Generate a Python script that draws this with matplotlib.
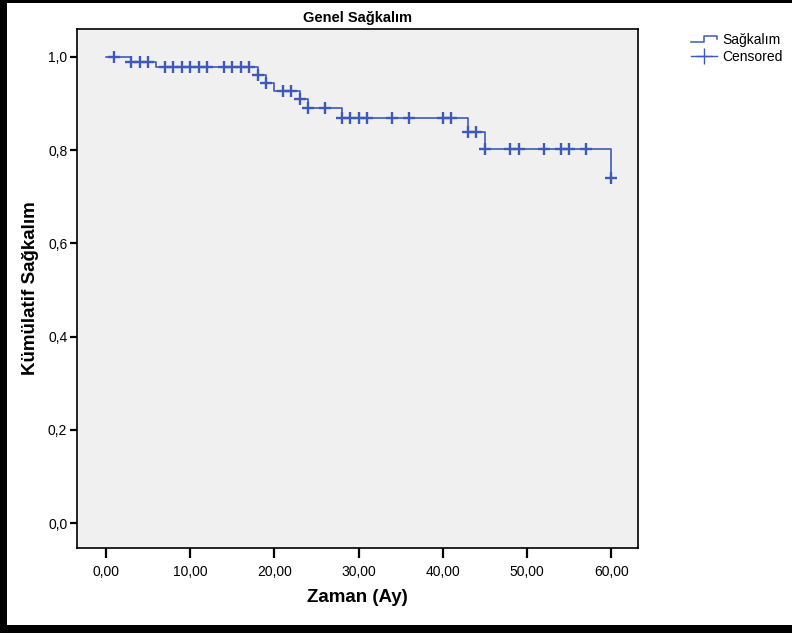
import numpy as np
import matplotlib
matplotlib.use("Agg")
import matplotlib.pyplot as plt
from matplotlib.lines import Line2D
from matplotlib.patches import Rectangle
from matplotlib.legend_handler import HandlerBase

plt.rcParams['font.family'] = ['Liberation Sans', 'DejaVu Sans']

# Kaplan-Meier egrisi (okunan degerler)
event_times = [0, 3, 6, 18, 19, 20, 23, 24, 28, 43, 45, 60]
survival = [1.000, 0.990, 0.979, 0.961, 0.945, 0.928, 0.909, 0.890, 0.870, 0.840, 0.802, 0.740]

# sansurlu gozlemler (ay)
censor_times = [1, 3, 4, 5, 7, 8, 9, 10, 11, 12, 14, 15, 16, 17, 18, 19, 21, 22,
                23, 24, 26, 28, 29, 30, 31, 34, 36, 40, 41, 43, 44, 45, 48, 49,
                52, 54, 55, 57, 60]

x_ticks = [0, 10, 20, 30, 40, 50, 60]
x_tick_labels = ["0,00", "10,00", "20,00", "30,00", "40,00", "50,00", "60,00"]
y_ticks = [0.0, 0.2, 0.4, 0.6, 0.8, 1.0]
y_tick_labels = ["0,0", "0,2", "0,4", "0,6", "0,8", "1,0"]

blue = '#3d5ab8'


class StepHandler(HandlerBase):
    # legend simgesi: basamak seklinde cizgi
    def create_artists(self, legend, orig_handle, xdescent, ydescent,
                       width, height, fontsize, trans):
        w, h = width, height
        xs = np.array([0, 0.5 * w, 0.5 * w, w, w]) - xdescent
        ys = np.array([0.2 * h, 0.2 * h, 0.85 * h, 0.85 * h, 0.5 * h]) - ydescent
        ln = Line2D(xs, ys, color=blue, lw=1.1, transform=trans)
        return [ln]


fig = plt.figure(figsize=(7.92, 6.33), dpi=100)
ax = fig.add_axes([77 / 792, 1 - 548 / 633, 561 / 792, 519 / 633])
ax.set_facecolor('#f0f0f0')

ax.step(event_times, survival, where='post', color=blue, lw=1.2)

# sansur noktalarinin y degeri egriden okunur
idx = np.searchsorted(event_times, censor_times, side='right') - 1
censor_surv = np.array(survival)[idx]
ax.plot(censor_times, censor_surv, ls='none', marker='+', ms=9, mew=1.7, color=blue)

ax.set_xlim(-3.44, 63.18)
ax.set_ylim(-0.0536, 1.060)
ax.set_xticks(x_ticks)
ax.set_xticklabels(x_tick_labels, fontsize=10)
ax.set_yticks(y_ticks)
ax.set_yticklabels(y_tick_labels, fontsize=10)
ax.tick_params(axis='x', length=7, width=1.6, direction='out', pad=5)
ax.tick_params(axis='y', length=5, width=1.6, direction='out', pad=2)
for s in ax.spines.values():
    s.set_linewidth(1.2)
    s.set_color('black')

ax.set_title("Genel Sağkalım", fontsize=10.5, fontweight='bold', pad=5)
fig.text(357 / 792, 1 - 598 / 633, "Zaman (Ay)", fontsize=13.5, fontweight='bold',
         ha='center', va='center')
fig.text(31 / 792, 1 - 288 / 633, "Kümülatif Sağkalım", fontsize=13.5, fontweight='bold',
         ha='center', va='center', rotation=90)

h1 = Line2D([], [], color=blue)
h2 = Line2D([], [], color=blue, lw=1.0, marker='+', ms=11, mew=1.0)
fig.legend([h1, h2], ["Sağkalım", "Censored"], loc='upper left',
           bbox_to_anchor=(691 / 792, 1 - 33 / 633), frameon=False,
           fontsize=10, handlelength=1.9, handletextpad=0.35,
           labelspacing=0.22, borderpad=0, borderaxespad=0, numpoints=1,
           handler_map={h1: StepHandler()})

# siyah cerceve
fig.add_artist(Rectangle((0, 0), 7 / 792, 1, transform=fig.transFigure,
                         color='black', lw=0))
fig.add_artist(Rectangle((0, 1 - 3 / 633), 1, 3 / 633, transform=fig.transFigure,
                         color='black', lw=0))
fig.add_artist(Rectangle((0, 0), 1, 8 / 633, transform=fig.transFigure,
                         color='black', lw=0))

fig.savefig("out.png", dpi=100)
